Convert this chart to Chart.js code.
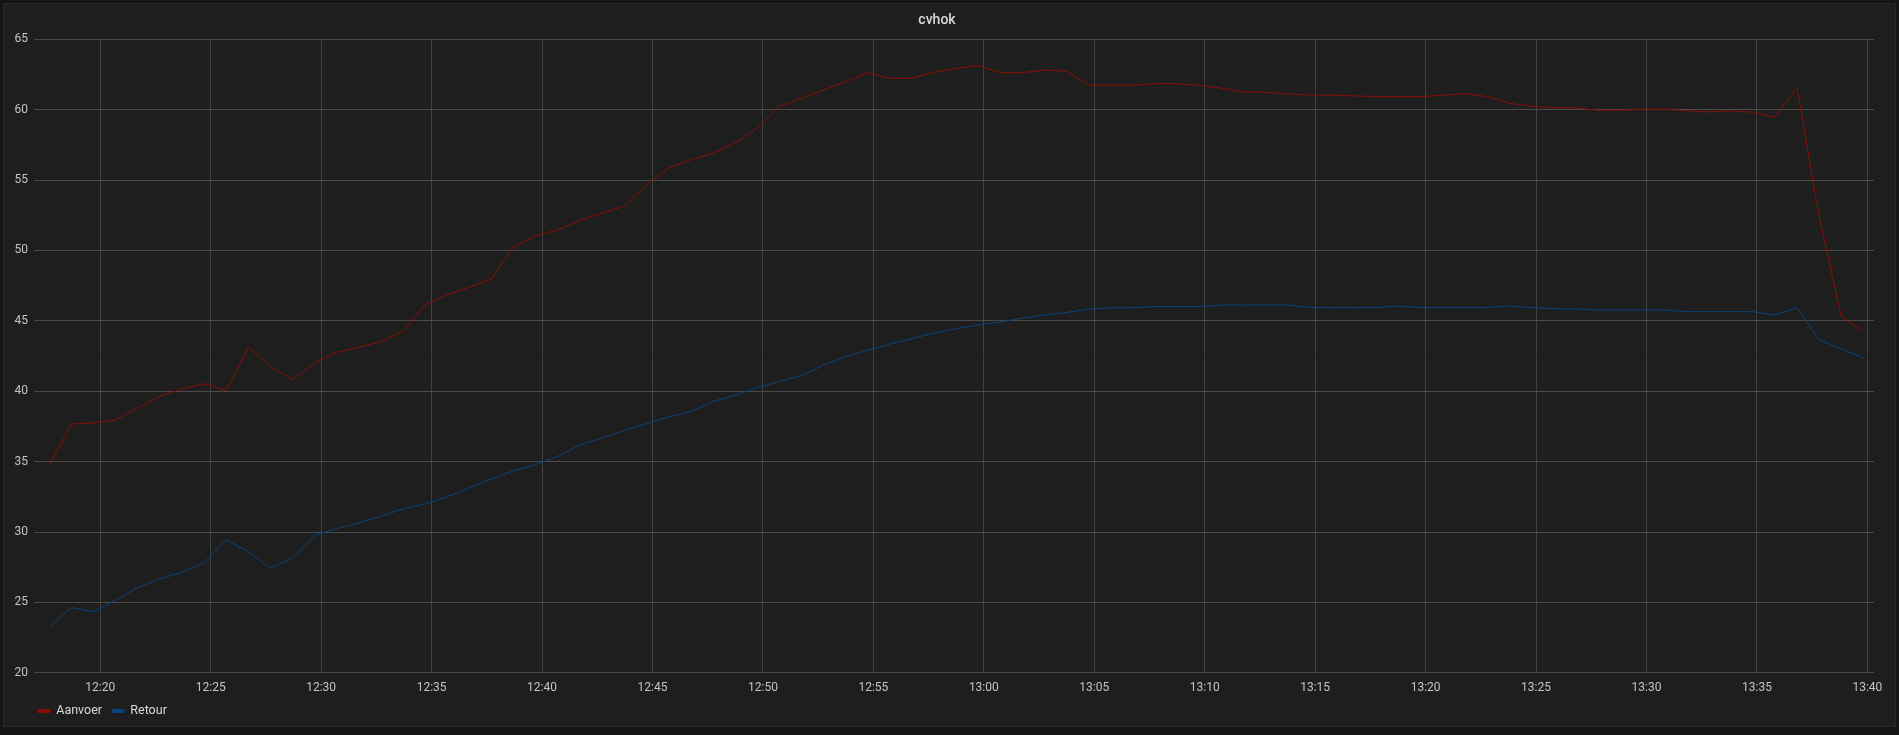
<!DOCTYPE html>
<html lang="nl">

<head>
  <meta charset="UTF-8">
  <title>cvhok</title>
  <style>
    body { margin: 0; background: #141414; overflow: hidden; }
    .panel {
      position: absolute; left: 3px; top: 3px; width: 1891px; height: 722px;
      background: #1f1e1f; border: 1px solid #282828;
    }
    #myChart { position: absolute; left: 0; top: 0; }
  </style>
</head>

<body>

  <div class="panel"></div>
  <canvas id="myChart" width="1899" height="735"></canvas>

  <script src="https://cdn.jsdelivr.net/npm/chart.js"></script>

  <script>
    // tijd van eerste meting en interval tussen metingen
    const startTime = '12:17:41'
    const intervalSeconds = 60.1

    // x-as labels
    const xTickLabels = ['12:20', '12:25', '12:30', '12:35', '12:40', '12:45', '12:50', '12:55',
      '13:00', '13:05', '13:10', '13:15', '13:20', '13:25', '13:30', '13:35', '13:40']

    // y-as
    const yMin = 20
    const yMax = 65
    const yStep = 5

    // aanvoer temperatuur (rood)
    const aanvoer = [
      34.67, 37.67, 37.75, 37.96, 38.8, 39.63, 40.16, 40.54, 40.04, 43.14,
      41.76, 40.82, 42.0, 42.76, 43.14, 43.52, 44.25, 46.14, 46.85, 47.4,
      47.97, 50.28, 51.04, 51.47, 52.13, 52.65, 53.15, 54.66, 55.85, 56.44,
      56.91, 57.62, 58.68, 60.22, 60.81, 61.4, 61.99, 62.63, 62.23, 62.23,
      62.66, 62.94, 63.13, 62.63, 62.63, 62.82, 62.73, 61.74, 61.74, 61.74,
      61.85, 61.85, 61.74, 61.52, 61.24, 61.24, 61.12, 61.05, 61.03, 60.98,
      60.93, 60.93, 60.93, 61.03, 61.14, 60.93, 60.46, 60.24, 60.15, 60.12,
      59.96, 59.96, 60.03, 60.03, 59.93, 59.84, 59.93, 59.82, 59.46, 61.59,
      52.41, 45.31, 44.25
    ]

    // retour temperatuur (blauw)
    const retour = [
      23.2, 24.64, 24.33, 25.16, 26.04, 26.67, 27.14, 27.81, 29.44, 28.61,
      27.43, 28.14, 29.77, 30.24, 30.65, 31.12, 31.65, 32.0, 32.5, 33.15,
      33.78, 34.36, 34.79, 35.38, 36.2, 36.68, 37.2, 37.7, 38.17, 38.55,
      39.28, 39.7, 40.25, 40.68, 41.12, 41.85, 42.45, 42.92, 43.35, 43.74,
      44.14, 44.44, 44.72, 44.91, 45.2, 45.41, 45.6, 45.84, 45.93, 45.93,
      46.02, 46.02, 46.02, 46.12, 46.12, 46.12, 46.12, 45.95, 45.95, 45.95,
      45.95, 46.05, 45.95, 45.95, 45.95, 45.95, 46.05, 45.93, 45.86, 45.84,
      45.77, 45.77, 45.77, 45.77, 45.65, 45.65, 45.65, 45.65, 45.43, 45.93,
      43.66, 43.02, 42.36
    ]

    // zichtbaar tijdvenster (minuten sinds middernacht)
    const xMin = 737.0
    const xMax = 820.3

    // 'hh:mm(:ss)' -> minuten
    const toMinutes = ( t ) => {
      const [h, m, s = 0] = t.split( ':' ).map( Number )
      return h * 60 + m + s / 60
    }

    // minuten -> 'hh:mm'
    const formatTime = ( v ) => {
      const total = Math.round( v )
      const h = Math.floor( total / 60 )
      const m = total % 60
      return h + ':' + String( m ).padStart( 2, '0' )
    }

    const start = toMinutes( startTime )
    const toPoints = ( values ) => values.map( ( y, i ) => ( { x: start + i * intervalSeconds / 60, y } ) )

    Chart.defaults.font.family = 'Roboto'
    Chart.defaults.font.size = 12

    const tickColor = '#c4c4c4'

    // legenda iets naar rechts schuiven (zoals in grafana)
    const legendShift = {
      id: 'legendShift',
      afterLayout: ( chart ) => {
        chart.legend.left += 28
        chart.legend.right += 28
      }
    }

    const datasets = [
      {
        label: 'Aanvoer',
        data: toPoints( aanvoer ),
        borderColor: '#890f02',
        backgroundColor: '#890f02',
        borderWidth: 1
      },
      {
        label: 'Retour',
        data: toPoints( retour ),
        borderColor: '#0a437c',
        backgroundColor: '#0a437c',
        borderWidth: 1
      }
    ]

    const config = {
      type: 'line',
      data: { datasets },
      options: {
        responsive: false,
        animation: false,
        elements: { point: { radius: 0 }, line: { tension: 0 } },
        layout: { padding: { left: 0, right: 25, top: 0, bottom: 7.7 } },
        plugins: {
          title: {
            display: true,
            text: 'cvhok',
            color: '#d8d9da',
            font: { size: 14, weight: '500' },
            padding: { top: 12.4, bottom: 10.1 }
          },
          legend: {
            position: 'bottom',
            align: 'start',
            labels: {
              boxWidth: 12,
              boxHeight: 3,
              padding: 10,
              color: '#d8d9da',
              font: { size: 12.5 }
            }
          },
          tooltip: { enabled: false }
        },
        scales: {
          x: {
            type: 'linear',
            min: xMin,
            max: xMax,
            border: { display: false },
            grid: { color: '#414141', drawTicks: false },
            ticks: {
              color: tickColor,
              padding: 7.5,
              maxRotation: 0,
              autoSkip: false,
              callback: ( v ) => formatTime( v )
            },
            afterBuildTicks: ( axis ) => {
              axis.ticks = xTickLabels.map( t => ( { value: toMinutes( t ) } ) )
            },
            afterFit: ( axis ) => { axis.height = 22 }
          },
          y: {
            min: yMin,
            max: yMax,
            border: { display: false },
            grid: { color: '#4b4b4b', drawTicks: false },
            ticks: { color: tickColor, stepSize: yStep, padding: 6 },
            afterFit: ( axis ) => { axis.width = 34 }
          }
        }
      },
      plugins: [legendShift]
    }

    new Chart( document.getElementById( 'myChart' ), config )
  </script>
</body>

</html>
